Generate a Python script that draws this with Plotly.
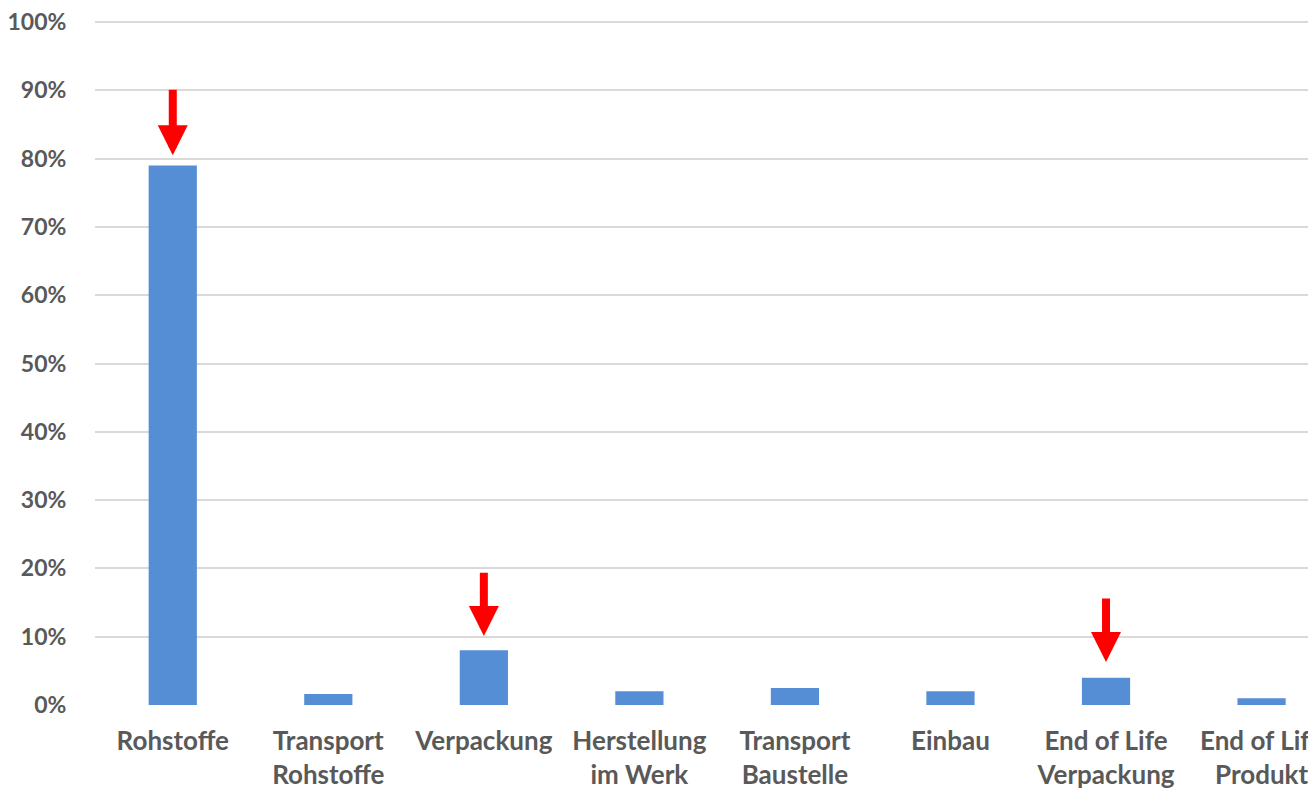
import plotly.graph_objects as go

categories = ["Rohstoffe", "Transport<br>Rohstoffe", "Verpackung", "Herstellung<br>im Werk",
              "Transport<br>Baustelle", "Einbau", "End of Life<br>Verpackung", "End of Life<br>Produkt"]
values = [0.79, 0.016, 0.08, 0.02, 0.025, 0.02, 0.04, 0.01]
arrow_cats = [0, 2, 6]
arrow_tops = [0.903, 0.196, 0.158]
arrow_tips = [0.805, 0.101, 0.063]
y_ticks = [i / 10 for i in range(11)]

fig = go.Figure()
fig.add_trace(go.Bar(x=list(range(len(categories))), y=values, marker_color="#558ED5",
                     marker_line_width=0, width=0.31))

for c, t0, t1 in zip(arrow_cats, arrow_tops, arrow_tips):
    fig.add_annotation(x=c, y=t1, ax=c, ay=t0, xref="x", yref="y", axref="x", ayref="y",
                       text="", showarrow=True, arrowhead=2, arrowsize=0.75, arrowwidth=8,
                       arrowcolor="#FF0000")

font_family = "Lato, 'Open Sans', sans-serif"
fig.update_layout(
    width=1308, height=781,
    margin=dict(l=87, r=0, t=13, b=84),
    plot_bgcolor="white", paper_bgcolor="white",
    showlegend=False,
    xaxis=dict(range=[-0.5, 7.35], tickvals=list(range(len(categories))), ticktext=categories,
               tickfont=dict(family=font_family, size=26, color="#595959", weight="bold"),
               showgrid=False, zeroline=False, showline=False, automargin=False,
               ticklabeloverflow="allow",
               ticks="outside", ticklen=13, tickcolor="rgba(0,0,0,0)"),
    yaxis=dict(range=[0, 1.0015], tickvals=y_ticks, tickformat=".0%",
               tickfont=dict(family=font_family, size=23, color="#595959", weight="bold"),
               showgrid=True, gridcolor="#D9D9D9", gridwidth=2, automargin=False,
               ticklabeloverflow="allow",
               zeroline=False, showline=False, ticks="outside", ticklen=23,
               tickcolor="rgba(0,0,0,0)"),
)
fig.write_html("out.html")
